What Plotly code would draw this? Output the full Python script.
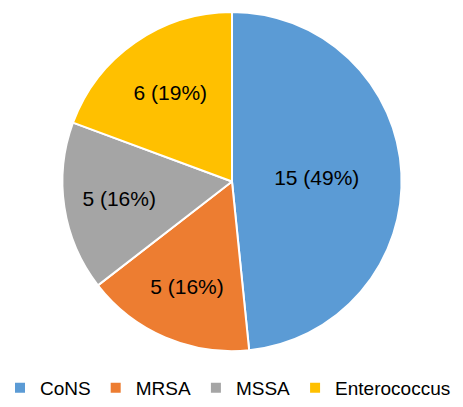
import plotly.graph_objects as go

categories = ["CoNS", "MRSA", "MSSA", "Enterococcus"]
counts = [15, 5, 5, 6]
percent_labels = ["49%", "16%", "16%", "19%"]
colors = ["#5B9BD5", "#ED7D31", "#A5A5A5", "#FFC000"]

W, H = 463, 407
cx, cy, r = 232, 182, 170

texts = [f"{c} ({p})" for c, p in zip(counts, percent_labels)]

fig = go.Figure(go.Pie(
    labels=categories,
    values=counts,
    text=texts,
    textinfo="text",
    textposition="inside",
    insidetextorientation="horizontal",
    sort=False,
    direction="clockwise",
    rotation=0,
    marker=dict(colors=colors, line=dict(color="white", width=2)),
    textfont=dict(color="black", size=21, family="Liberation Sans"),
    domain=dict(x=[(cx - r) / W, (cx + r) / W], y=[1 - (cy + r) / H, 1 - (cy - r) / H]),
    hoverinfo="label+value",
))

fig.update_layout(
    width=W, height=H,
    margin=dict(l=0, r=0, t=0, b=0),
    paper_bgcolor="white",
    font=dict(family="Liberation Sans", color="black", size=19),
    showlegend=True,
    legend=dict(
        orientation="h",
        x=0, xanchor="left",
        y=1 - 389 / H, yanchor="middle",
        font=dict(size=19, color="black"),
        itemwidth=30,
        borderwidth=0,
        tracegroupgap=0,
    ),
)

fig.write_html("out.html")
